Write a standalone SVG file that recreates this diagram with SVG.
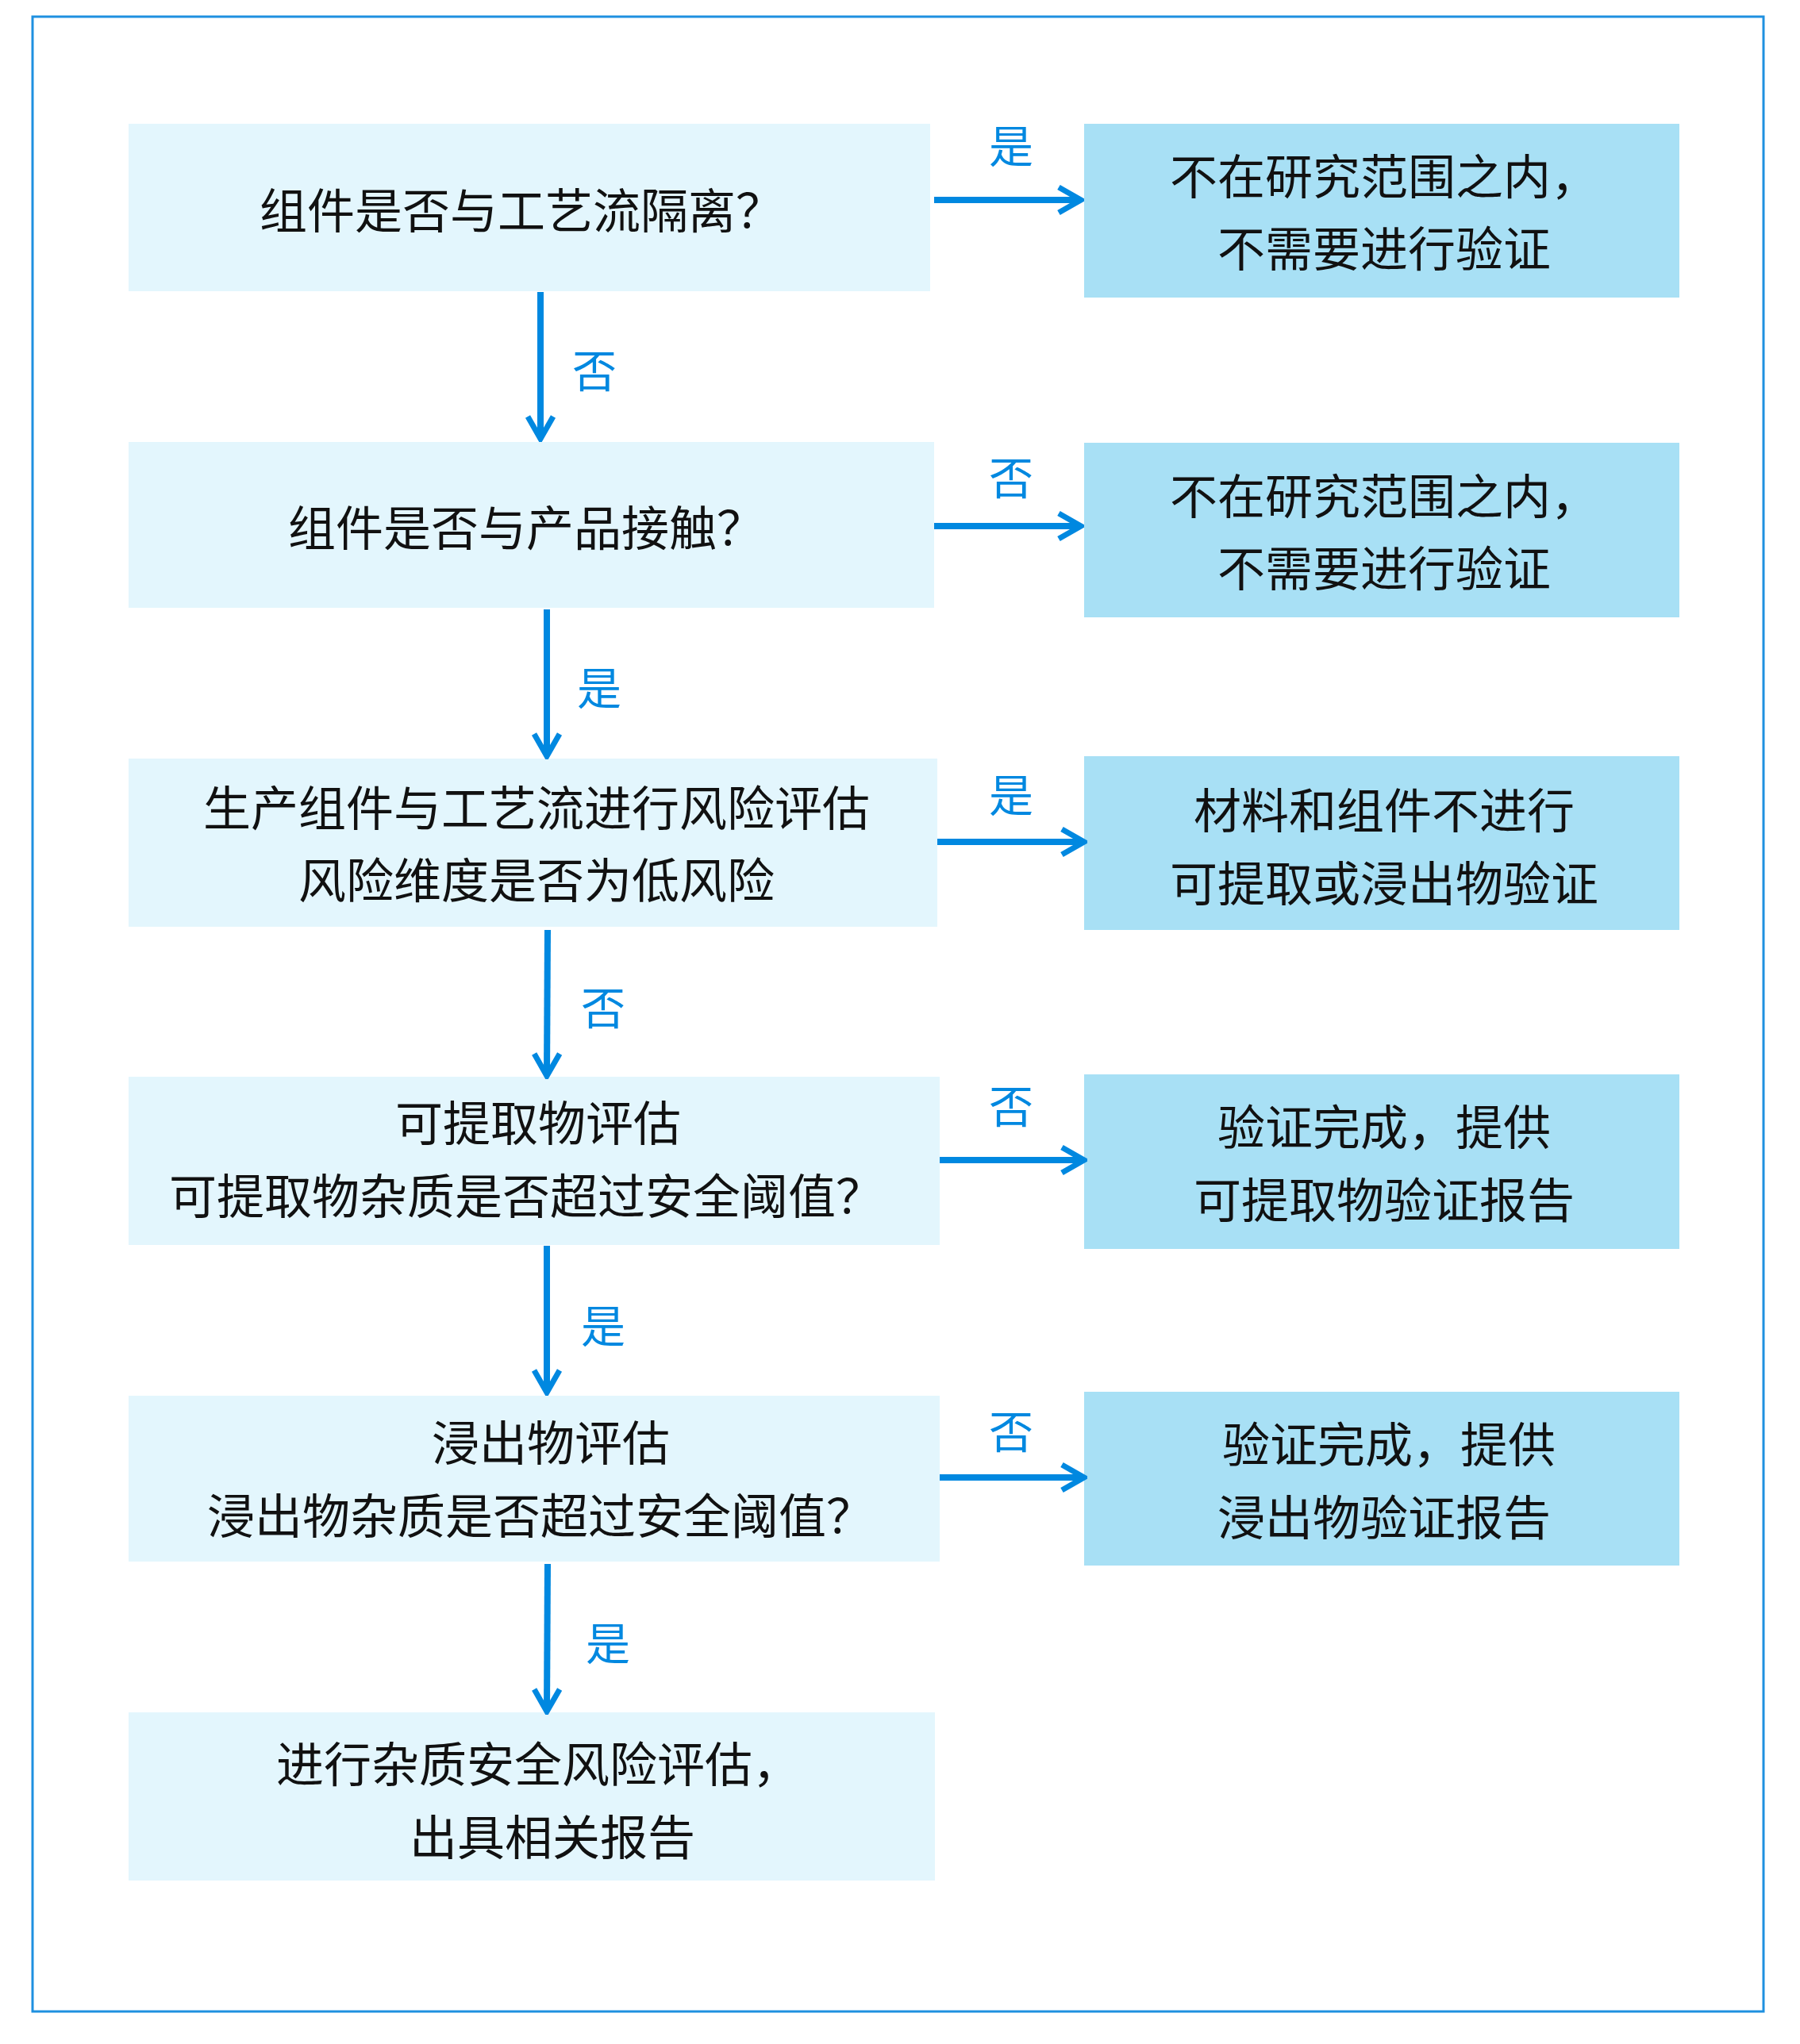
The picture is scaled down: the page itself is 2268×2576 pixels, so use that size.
<svg xmlns="http://www.w3.org/2000/svg" width="2268" height="2576" viewBox="0 0 2268 2576">
<defs>
<style>
.l{fill:#E3F6FD}.r{fill:#A8E0F5}
.t{font-family:"Noto Sans CJK SC","Noto Sans",sans-serif;font-size:60px;fill:#111;text-anchor:middle;dominant-baseline:central}
.b{font-family:"Noto Sans CJK SC","Noto Sans",sans-serif;font-size:56px;fill:#0088E0;text-anchor:middle;dominant-baseline:central}
.c{stroke:#0088E0;stroke-width:8;fill:none}
</style>
<marker id="a" viewBox="0 0 20 20" refX="18" refY="10" markerWidth="5" markerHeight="5" markerUnits="strokeWidth" orient="auto"><path d="M4,2 L18,10 L4,18" fill="none" stroke="#0088E0" stroke-width="3.5"/></marker>
</defs>
<rect x="41" y="21" width="2181" height="2514" fill="#fff" stroke="#1E90E0" stroke-width="3"/>
<g id="n1"><rect class="l" x="162" y="156" width="1010" height="211"/><text class="t" x="657" y="261">组件是否与工艺流隔离？</text></g>
<g id="n2"><rect class="l" x="162" y="557" width="1015" height="209"/><text class="t" x="663" y="661">组件是否与产品接触？</text></g>
<g id="n3"><rect class="l" x="162" y="956" width="1019" height="212"/><text class="t" x="676" y="1014">生产组件与工艺流进行风险评估</text><text class="t" x="676" y="1105">风险维度是否为低风险</text></g>
<g id="n4"><rect class="l" x="162" y="1357" width="1022" height="212"/><text class="t" x="678" y="1411">可提取物评估</text><text class="t" x="663" y="1503">可提取物杂质是否超过安全阈值？</text></g>
<g id="n5"><rect class="l" x="162" y="1759" width="1022" height="209"/><text class="t" x="694" y="1814">浸出物评估</text><text class="t" x="681" y="1906">浸出物杂质是否超过安全阈值？</text></g>
<g id="n6"><rect class="l" x="162" y="2158" width="1016" height="212"/><text class="t" x="678" y="2219">进行杂质安全风险评估，</text><text class="t" x="696" y="2311">出具相关报告</text></g>
<g id="r1"><rect class="r" x="1366" y="156" width="750" height="219"/><text class="t" x="1744" y="218">不在研究范围之内，</text><text class="t" x="1744" y="309">不需要进行验证</text></g>
<g id="r2"><rect class="r" x="1366" y="558" width="750" height="220"/><text class="t" x="1744" y="621">不在研究范围之内，</text><text class="t" x="1744" y="712">不需要进行验证</text></g>
<g id="r3"><rect class="r" x="1366" y="953" width="750" height="219"/><text class="t" x="1744" y="1017">材料和组件不进行</text><text class="t" x="1744" y="1109">可提取或浸出物验证</text></g>
<g id="r4"><rect class="r" x="1366" y="1354" width="750" height="220"/><text class="t" x="1744" y="1416">验证完成，提供</text><text class="t" x="1744" y="1508">可提取物验证报告</text></g>
<g id="r5"><rect class="r" x="1366" y="1754" width="750" height="219"/><text class="t" x="1750" y="1816">验证完成，提供</text><text class="t" x="1744" y="1908">浸出物验证报告</text></g>
<g id="connectors">
<line class="c" x1="1177" y1="252" x2="1362" y2="252" marker-end="url(#a)"/>
<line class="c" x1="1177" y1="663" x2="1362" y2="663" marker-end="url(#a)"/>
<line class="c" x1="1181" y1="1061" x2="1366" y2="1061" marker-end="url(#a)"/>
<line class="c" x1="1184" y1="1462" x2="1366" y2="1462" marker-end="url(#a)"/>
<line class="c" x1="1184" y1="1862" x2="1366" y2="1862" marker-end="url(#a)"/>
<line class="c" x1="681" y1="368" x2="681" y2="553" marker-end="url(#a)"/>
<line class="c" x1="689" y1="768" x2="689" y2="953" marker-end="url(#a)"/>
<line class="c" x1="690" y1="1172" x2="689" y2="1356" marker-end="url(#a)"/>
<line class="c" x1="689" y1="1570" x2="689" y2="1755" marker-end="url(#a)"/>
<line class="c" x1="690" y1="1971" x2="689" y2="2157" marker-end="url(#a)"/>
<text class="b" x="1274" y="180">是</text>
<text class="b" x="1274" y="598">否</text>
<text class="b" x="1274" y="998">是</text>
<text class="b" x="1274" y="1390">否</text>
<text class="b" x="1274" y="1800">否</text>
<text class="b" x="749" y="463">否</text>
<text class="b" x="755" y="863">是</text>
<text class="b" x="760" y="1266">否</text>
<text class="b" x="760" y="1667">是</text>
<text class="b" x="766" y="2067">是</text>
</g>
</svg>
